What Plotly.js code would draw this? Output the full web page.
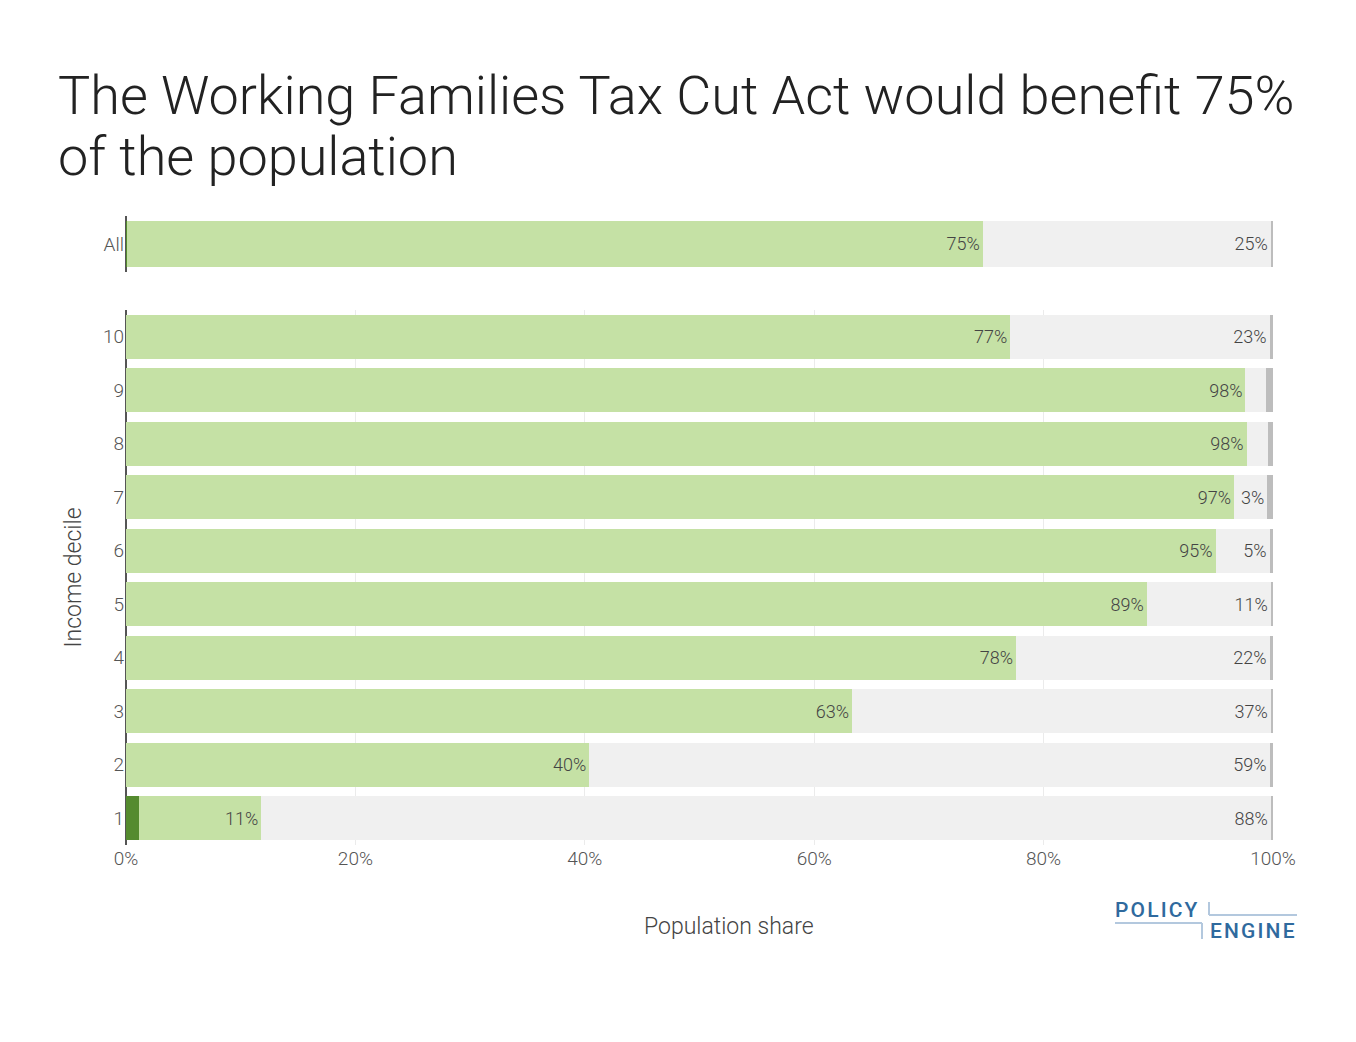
<!DOCTYPE html>
<html>
<head>
<meta charset="utf-8">
<script src="https://cdn.plot.ly/plotly-3.0.1.min.js"></script>
<style>
  body { margin: 0; background: #fff; }
  #graph { width: 1356px; height: 1042px; }
</style>
</head>
<body>
<div id="graph"></div>
<script>
// income deciles, bottom to top
var deciles = ["1", "2", "3", "4", "5", "6", "7", "8", "9", "10"];

// shares of each decile (percent)
var gainMore5  = [1.1, 0, 0, 0, 0, 0, 0, 0, 0, 0];
var gainLess5  = [10.7, 40.4, 63.3, 77.6, 89.0, 95.0, 96.6, 97.7, 97.6, 77.1];
var noChange   = [88.0, 59.3, 36.5, 22.1, 10.8, 4.7, 2.9, 1.9, 1.8, 22.6];
var loseLess5  = [0.2, 0.3, 0.2, 0.3, 0.2, 0.3, 0.5, 0.4, 0.6, 0.3];
var loseMore5  = [0, 0, 0, 0, 0, 0, 0, 0, 0, 0];

// whole population
var allLabel = ["All"];
var allGainMore5 = [0.1];
var allGainLess5 = [74.6];
var allNoChange  = [25.1];
var allLoseLess5 = [0.2];
var allLoseMore5 = [0];

var titleLines = ["The Working Families Tax Cut Act would benefit 75%", "of the population"];

var groups = [
  {name: "Gain more than 5%", color: "#558B2F", dec: gainMore5, all: allGainMore5},
  {name: "Gain less than 5%", color: "#C5E1A5", dec: gainLess5, all: allGainLess5},
  {name: "No change",         color: "#F0F0F0", dec: noChange,  all: allNoChange},
  {name: "Lose less than 5%", color: "#BDBDBD", dec: loseLess5, all: allLoseLess5},
  {name: "Lose more than 5%", color: "#616161", dec: loseMore5, all: allLoseMore5}
];

function pct(a) { return a.map(function (v) { return v / 100; }); }

var traces = [];
groups.forEach(function (g) {
  var common = {
    type: "bar", orientation: "h", name: g.name, showlegend: false,
    marker: {color: g.color},
    texttemplate: "%{x:.0%}", textposition: "inside", insidetextanchor: "end",
    textfont: {family: "Roboto", size: 18, color: "#444", weight: 300},
    hoverinfo: "skip"
  };
  traces.push(Object.assign({}, common, {x: pct(g.all), y: allLabel, xaxis: "x2", yaxis: "y2"}));
  traces.push(Object.assign({}, common, {x: pct(g.dec), y: deciles, xaxis: "x", yaxis: "y"}));
});

var tickFont = {family: "Roboto", size: 19, color: "#555", weight: 300};
var titleFont = {family: "Roboto", size: 54, color: "#222", weight: 300};
var logoBlue = "#2F6A9E";
var logoLine = "#B3C8DE";
var sp = "\u200A";

// pixel -> paper helpers (plot area 126..1273 x 216..845)
function px(x) { return (x - 126) / 1147; }
function py(y) { return (845 - y) / 629; }

var layout = {
  width: 1356,
  height: 1042,
  barmode: "stack",
  bargap: 0.18,
  paper_bgcolor: "#fff",
  plot_bgcolor: "#fff",
  font: {family: "Roboto", color: "#444", weight: 300},
  uniformtext: {mode: "hide", minsize: 16},
  margin: {l: 126, r: 83, t: 216, b: 197},
  title: {
    text: titleLines[0],
    font: titleFont,
    x: 58 / 1356, xref: "container", xanchor: "left",
    y: 1 - 95 / 1042, yref: "container", yanchor: "middle"
  },
  xaxis: {
    domain: [0, 1], range: [0, 1], tickformat: ".0%", dtick: 0.2,
    tickfont: tickFont, gridcolor: "#EBEBEB", zeroline: true,
    zerolinecolor: "#555", zerolinewidth: 2, fixedrange: true
  },
  yaxis: {
    domain: [0, 0.8506], type: "category", tickfont: tickFont, ticklabelstandoff: 1,
    title: {text: "Income decile", font: {family: "Roboto", size: 23, color: "#444", weight: 300}, standoff: 14},
    fixedrange: true
  },
  xaxis2: {
    domain: [0, 1], range: [0, 1], anchor: "y2", matches: "x", showticklabels: false,
    showgrid: false, zeroline: true, zerolinecolor: "#555", zerolinewidth: 2, fixedrange: true
  },
  yaxis2: {
    domain: [0.911, 1], anchor: "x2", type: "category", tickfont: tickFont,
    ticklabelstandoff: 1, fixedrange: true
  },
  annotations: [
    {text: titleLines[1], xref: "paper", yref: "paper", x: px(56), y: py(157),
     xanchor: "left", yanchor: "middle", showarrow: false, font: titleFont},
    {text: "Population share", xref: "paper", yref: "paper", x: px(729), y: py(926),
     xanchor: "center", yanchor: "middle", showarrow: false,
     font: {family: "Roboto", size: 23, color: "#444", weight: 300}},
    {text: ["P", "O", "L", "I", "C", "Y"].join(sp), xref: "paper", yref: "paper", x: px(1113), y: py(910),
     xanchor: "left", yanchor: "middle", showarrow: false,
     font: {family: "Roboto", size: 21, color: logoBlue, weight: 500}},
    {text: ["E", "N", "G", "I", "N", "E"].join(sp), xref: "paper", yref: "paper", x: px(1208), y: py(931),
     xanchor: "left", yanchor: "middle", showarrow: false,
     font: {family: "Roboto", size: 21, color: logoBlue, weight: 500}}
  ],
  shapes: [
    {type: "line", xref: "paper", yref: "paper", layer: "above",
     x0: px(1209), x1: px(1209), y0: py(902), y1: py(915), line: {color: logoLine, width: 2}},
    {type: "line", xref: "paper", yref: "paper", layer: "above",
     x0: px(1209), x1: px(1297), y0: py(915), y1: py(915), line: {color: logoLine, width: 2}},
    {type: "line", xref: "paper", yref: "paper", layer: "above",
     x0: px(1115), x1: px(1202), y0: py(923), y1: py(923), line: {color: logoLine, width: 2}},
    {type: "line", xref: "paper", yref: "paper", layer: "above",
     x0: px(1202), x1: px(1202), y0: py(923), y1: py(939), line: {color: logoLine, width: 2}}
  ]
};

Plotly.newPlot("graph", traces, layout, {displayModeBar: false, staticPlot: true});
</script>
</body>
</html>
